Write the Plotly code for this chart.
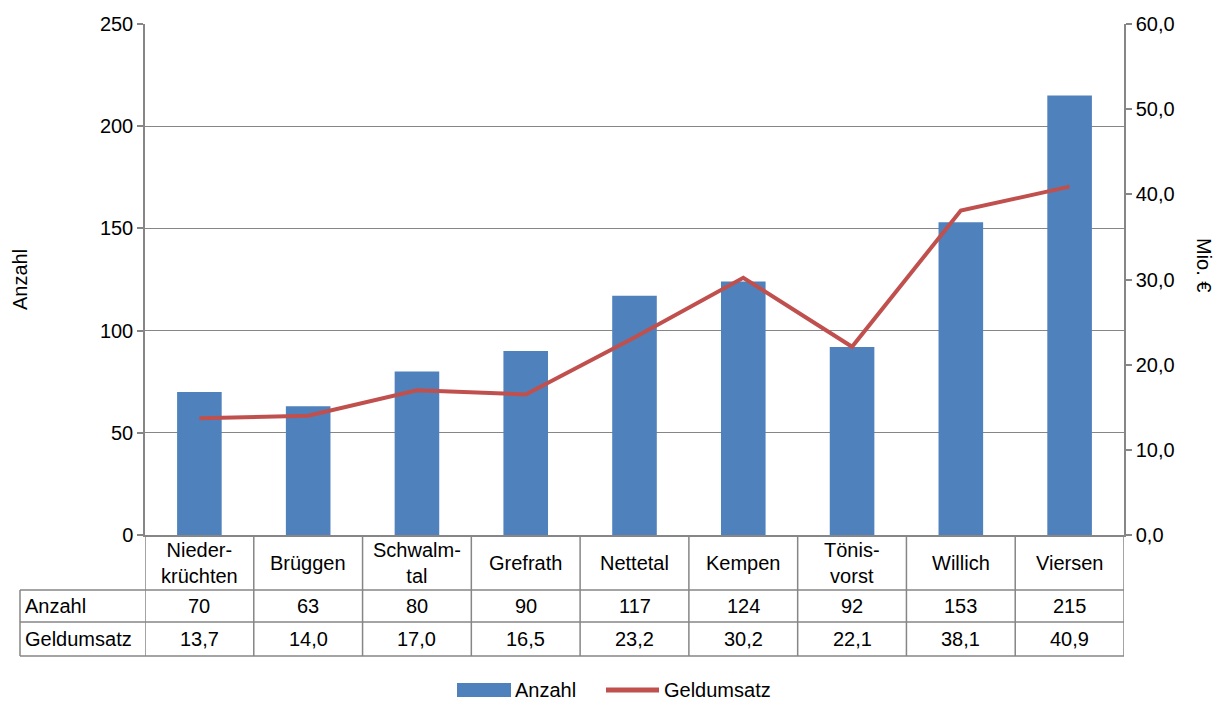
import plotly.graph_objects as go

# Data
orte = ["Nieder-<br>krüchten", "Brüggen", "Schwalm-<br>tal", "Grefrath", "Nettetal",
        "Kempen", "Tönis-<br>vorst", "Willich", "Viersen"]
anzahl = [70, 63, 80, 90, 117, 124, 92, 153, 215]
geldumsatz = [13.7, 14.0, 17.0, 16.5, 23.2, 30.2, 22.1, 38.1, 40.9]
row_labels = ["Anzahl", "Geldumsatz"]

W, H = 1226, 702
L, R, T, B = 145, 1124, 24, 535  # plot area in pixels

BAR = "#4F81BD"
LINE = "#C0504D"
GRID = "#868686"
FONT = "Liberation Sans, Arial, sans-serif"
FS = 20


def py(p):
    return (B - p) / (B - T)


def px(p):
    return (p - L) / (R - L)


xs = list(range(len(orte)))

fig = go.Figure()
fig.add_trace(go.Bar(x=xs, y=anzahl, name="Anzahl", marker=dict(color=BAR, line=dict(width=0)),
                     width=0.41, yaxis="y", showlegend=False))
fig.add_trace(go.Scatter(x=xs, y=geldumsatz, name="Geldumsatz", mode="lines",
                         line=dict(color=LINE, width=4), yaxis="y2", showlegend=False))

shapes = []
annotations = []
txt = dict(size=FS, color="#000000", family=FONT)

# table grid
row_y = [535, 590, 622, 656]
for yy in row_y[1:]:
    shapes.append(dict(type="line", xref="paper", yref="paper", x0=px(20), x1=1,
                       y0=py(yy), y1=py(yy), line=dict(color=GRID, width=1.5)))
for i in range(len(orte) + 1):
    shapes.append(dict(type="line", xref="x", yref="paper", x0=i - 0.5, x1=i - 0.5,
                       y0=py(535), y1=py(656), line=dict(color=GRID, width=1.5)))
shapes.append(dict(type="line", xref="paper", yref="paper", x0=px(20), x1=px(20),
                   y0=py(590), y1=py(656), line=dict(color=GRID, width=1.5)))

# category row and value rows
for i, name in enumerate(orte):
    annotations.append(dict(xref="x", yref="paper", x=i, y=py(562.5), text=name,
                            showarrow=False, font=txt, xanchor="center", yanchor="middle"))
    annotations.append(dict(xref="x", yref="paper", x=i, y=py(606), text=str(anzahl[i]),
                            showarrow=False, font=txt, xanchor="center", yanchor="middle"))
    annotations.append(dict(xref="x", yref="paper", x=i, y=py(639),
                            text=f"{geldumsatz[i]:.1f}".replace(".", ","),
                            showarrow=False, font=txt, xanchor="center", yanchor="middle"))
for lbl, yy in zip(row_labels, [606, 639]):
    annotations.append(dict(xref="paper", yref="paper", x=px(23), y=py(yy), text=lbl,
                            showarrow=False, font=txt, xanchor="left", yanchor="middle"))

# axis titles
annotations.append(dict(xref="paper", yref="paper", x=px(20), y=py(280), text="Anzahl",
                        textangle=-90, showarrow=False, xanchor="center", yanchor="middle",
                        font=txt))
annotations.append(dict(xref="paper", yref="paper", x=px(1204), y=py(265), text="Mio. €",
                        textangle=90, showarrow=False, xanchor="center", yanchor="middle",
                        font=txt))

# legend: wide bar swatch and line swatch with labels
shapes.append(dict(type="rect", xref="paper", yref="paper", x0=px(457), x1=px(511),
                   y0=py(697), y1=py(683), fillcolor=BAR, line=dict(width=0)))
annotations.append(dict(xref="paper", yref="paper", x=px(513), y=py(690), text=row_labels[0],
                        showarrow=False, font=txt, xanchor="left", yanchor="middle"))
shapes.append(dict(type="line", xref="paper", yref="paper", x0=px(606), x1=px(659),
                   y0=py(690), y1=py(690), line=dict(color=LINE, width=5)))
annotations.append(dict(xref="paper", yref="paper", x=px(662), y=py(690), text=row_labels[1],
                        showarrow=False, font=txt, xanchor="left", yanchor="middle"))

fig.update_layout(
    width=W, height=H,
    margin=dict(l=L, r=W - R, t=T, b=H - B, pad=0),
    paper_bgcolor="white", plot_bgcolor="white",
    separators=",.",
    font=dict(family=FONT, size=FS, color="#000000"),
    showlegend=False,
    xaxis=dict(range=[-0.5, len(orte) - 0.5], showticklabels=False, ticks="",
               showgrid=False, zeroline=False, showline=True, linecolor=GRID, linewidth=1.5,
               fixedrange=True),
    yaxis=dict(range=[0, 250], dtick=50, tick0=0, showgrid=True, gridcolor=GRID, gridwidth=1,
               zeroline=False, showline=True, linecolor=GRID, linewidth=1.5,
               ticks="outside", ticklen=6, tickcolor=GRID, tickwidth=1.5,
               tickfont=dict(size=FS, color="#000000")),
    yaxis2=dict(range=[0, 60], dtick=10, tick0=0, tickformat=".1f", overlaying="y",
                side="right", showgrid=False, zeroline=False, showline=True, linecolor=GRID,
                linewidth=1.5, ticks="outside", ticklen=6, tickcolor=GRID, tickwidth=1.5,
                tickfont=dict(size=FS, color="#000000")),
    shapes=shapes,
    annotations=annotations,
)

fig.write_html("out.html")
